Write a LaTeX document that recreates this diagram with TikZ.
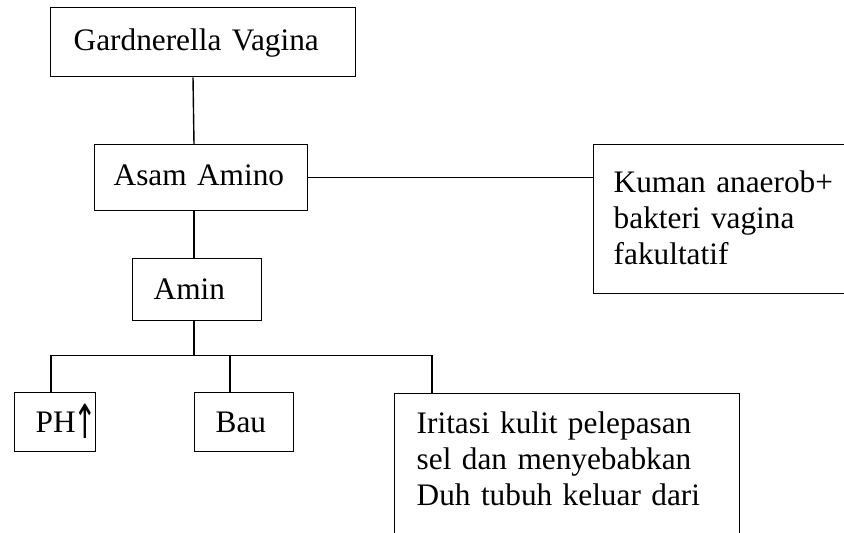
\documentclass[tikz,border=0pt]{standalone}
\usepackage{fontspec}
\usepackage{graphicx}
\setmainfont{Liberation Serif}
\newfontfamily\panah{DejaVu Sans}
\usetikzlibrary{calc}

\begin{document}
\begin{tikzpicture}[x=1pt,y=-1pt,line width=1.4pt]
\tikzset{every node/.style={font=\fontsize{31.3}{36}\selectfont},
  kotak/.style={draw,anchor=north west,inner xsep=20pt,inner ysep=0pt,align=left}}
\useasboundingbox (0,0) rectangle (844,533);
\clip (0,0) rectangle (844,533);

% Boxes (top left corners, sizes as in the scan)
\node[kotak,inner xsep=23pt,text width=259pt,text height=43pt,text depth=26pt] (gardner) at (50,7) {Gardnerella Vagina};
\node[kotak,inner xsep=19pt,text width=175pt,text height=41pt,text depth=25pt] (asam) at (94,144) {Asam Amino};
\node[kotak,inner xsep=21pt,text width=87pt,text height=41pt,text depth=21pt] (amin) at (132,258) {Amin};
\node[kotak,text width=260pt,text height=48pt,text depth=101pt] (kuman) at (593,144) {Kuman anaerob+\\bakteri vagina\\fakultatif};
\node[kotak,inner xsep=21pt,text width=39pt,text height=40pt,text depth=19pt] (ph) at (14,392) {PH\kern-2pt{\panah\raisebox{-6pt}{\scalebox{0.9}[1.5]{↑}}}};
\node[kotak,inner xsep=21pt,text width=57pt,text height=40pt,text depth=19pt] (bau) at (194,392) {Bau};
\node[kotak,inner xsep=22pt,text width=301pt,text height=40pt,text depth=160pt] (iritasi) at (394,393) {Iritasi kulit pelepasan\\sel dan menyebabkan\\Duh tubuh keluar dari};

% Connection points
\coordinate (gBawah) at ($(gardner.south west)+(143,0)$);
\coordinate (aAtas) at ($(asam.north west)+(100,0)$);
\coordinate (aBawah) at ($(asam.south west)+(100,0)$);
\coordinate (mAtas) at ($(amin.north west)+(62,0)$);
\coordinate (mBawah) at ($(amin.south west)+(62,0)$);
\coordinate (bus) at ($(mBawah)+(0,34)$);
\coordinate (pAtas) at ($(ph.north west)+(37,0)$);
\coordinate (bAtas) at ($(bau.north west)+(36,0)$);
\coordinate (iAtas) at ($(iritasi.north west)+(38,0)$);

% Lines
\draw (gBawah) -- (aAtas);
\draw (asam.east) -- (asam.east -| kuman.west);
\draw (aBawah) -- (mAtas);
\draw (mBawah) -- (bus);
\draw (pAtas) |- (bus) -| (iAtas);
\draw (bAtas) -- (bAtas |- bus);

\end{tikzpicture}
\end{document}
